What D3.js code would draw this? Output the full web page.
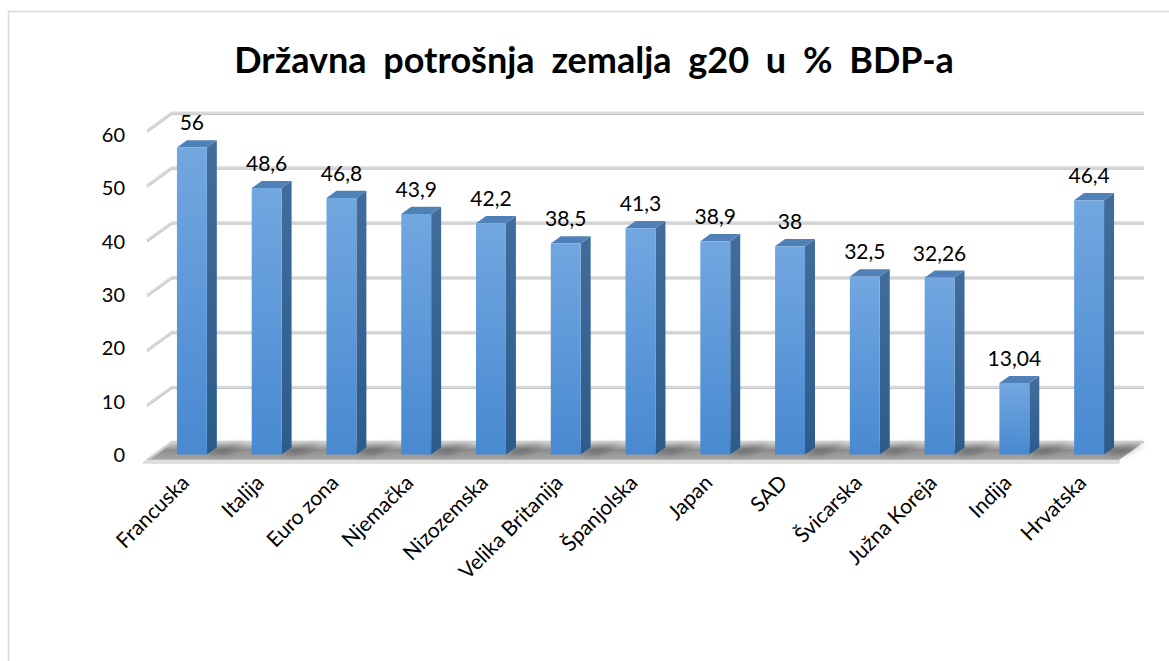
<!DOCTYPE html>
<html>
<head>
<meta charset="utf-8">
<script src="https://cdn.jsdelivr.net/npm/d3@7"></script>
<style>
  body { margin: 0; background: #fff; }
  svg text { font-family: Lato, "Open Sans", sans-serif; fill: #000; }
</style>
</head>
<body>
<svg id="barChart" width="1169" height="661"></svg>
<script>
// data
var categories = ["Francuska", "Italija", "Euro zona", "Njemačka", "Nizozemska", "Velika Britanija",
    "Španjolska", "Japan", "SAD", "Švicarska", "Južna Koreja", "Indija", "Hrvatska"];
var values = [56, 48.6, 46.8, 43.9, 42.2, 38.5, 41.3, 38.9, 38, 32.5, 32.26, 13.04, 46.4];
var yTicks = [0, 10, 20, 30, 40, 50, 60];
var title = "Državna potrošnja zemalja g20 u % BDP-a";

var svg = d3.select("svg#barChart");

// fake 3d: depth vector of the plot box
var depth = { x: 25, y: -18 },
    zFront = 0.3, zBack = 0.7;

var x = d3.scaleBand().domain(categories).range([147, 1119]).paddingInner(0.6).paddingOuter(0.3),
    y = d3.scaleLinear().domain([0, 60]).range([460, 131]),
    yLabel = y.copy().range([455, 135]); // tick labels sit between front and back wall

function p(px, py, z) { return [px + z * depth.x, py + z * depth.y]; }
function poly(pts) { return pts.map(function (d) { return d.join(","); }).join(" "); }

// chart border
svg.append("rect")
    .attr("x", 8.5).attr("y", 11.5)
    .attr("width", 1200).attr("height", 700)
    .attr("fill", "#fff")
    .attr("stroke", "#d9d9d9")
    .attr("stroke-width", 1.5);

var defs = svg.append("defs");

var front = defs.append("linearGradient").attr("id", "frontGrad")
    .attr("x1", 0).attr("y1", 0).attr("x2", 0).attr("y2", 1);
front.append("stop").attr("offset", "0%").attr("stop-color", "#72a7e0");
front.append("stop").attr("offset", "100%").attr("stop-color", "#4889d1");

var side = defs.append("linearGradient").attr("id", "sideGrad")
    .attr("x1", 0).attr("y1", 0).attr("x2", 0).attr("y2", 1);
side.append("stop").attr("offset", "0%").attr("stop-color", "#416d9c");
side.append("stop").attr("offset", "100%").attr("stop-color", "#2c5b8c");

var floorGrad = defs.append("linearGradient").attr("id", "floorGrad")
    .attr("x1", 0).attr("y1", 0).attr("x2", 0).attr("y2", 1);
floorGrad.append("stop").attr("offset", "0%").attr("stop-color", "#d6d6d6");
floorGrad.append("stop").attr("offset", "45%").attr("stop-color", "#8e8e8e");
floorGrad.append("stop").attr("offset", "100%").attr("stop-color", "#a9a9a9");

defs.append("filter").attr("id", "blur")
    .attr("x", "-50%").attr("y", "-50%").attr("width", "200%").attr("height", "200%")
    .append("feGaussianBlur").attr("stdDeviation", 3);

var x0 = x.range()[0], x1 = x.range()[1];

// back wall gridlines + diagonal ticks on the left wall
var grid = svg.append("g");
yTicks.forEach(function (t) {
    if (t === 0) return;
    var a = p(x0, y(t), 0), b = p(x0, y(t), 1), c = p(x1, y(t), 1);
    grid.append("polyline")
        .attr("points", poly([a, b, c]))
        .attr("fill", "none")
        .attr("stroke", "#d9d9d9")
        .attr("stroke-width", 3);
    grid.append("polyline")
        .attr("points", poly([[a[0], a[1] + 1.5], [b[0], b[1] + 1.5], [c[0], c[1] + 1.5]]))
        .attr("fill", "none")
        .attr("stroke", "#bdbdbd")
        .attr("stroke-width", 0.8);
});

// floor
var floor = svg.append("g");
floor.append("polygon")
    .attr("points", poly([p(x0, y(0), 0), p(x1, y(0), 0), p(x1, y(0), 1), p(x0, y(0), 1)]))
    .attr("fill", "url(#floorGrad)");
floor.append("polyline")
    .attr("points", poly([p(x0, y(0), 0), p(x0, y(0), 1), p(x1, y(0), 1)]))
    .attr("fill", "none").attr("stroke", "#d0d0d0").attr("stroke-width", 2.5);
// front lip
floor.append("polygon")
    .attr("points", poly([p(x0, y(0), 0), p(x1, y(0), 0), [x1, y(0) + 3], [x0 - 4, y(0) + 3]]))
    .attr("fill", "#e6e6e6").attr("stroke", "#c9c9c9").attr("stroke-width", 1);

// bar shadows on the floor
svg.append("g").selectAll("polygon")
    .data(values)
    .enter()
    .append("polygon")
    .attr("points", function (d, i) {
        var bx = x(categories[i]), bw = x.bandwidth();
        return poly([p(bx + bw, y(0), zFront), p(bx + bw + 18, y(0), zFront),
            p(bx + bw + 26, y(0), zBack + 0.2), p(bx + bw, y(0), zBack)]);
    })
    .attr("fill", "#555")
    .attr("opacity", 0.6)
    .attr("filter", "url(#blur)");

// bars
var bars = svg.append("g").selectAll("g.bar")
    .data(values)
    .enter()
    .append("g")
    .attr("class", "bar");

bars.append("polygon")
    .attr("points", function (d, i) {
        var bx = x(categories[i]) + x.bandwidth();
        return poly([p(bx, y(d), zFront), p(bx, y(d), zBack), p(bx, y(0), zBack), p(bx, y(0), zFront)]);
    })
    .attr("fill", "url(#sideGrad)");

bars.append("polygon")
    .attr("points", function (d, i) {
        var bx = x(categories[i]), bw = x.bandwidth();
        return poly([p(bx, y(d), zFront), p(bx + bw, y(d), zFront), p(bx + bw, y(d), zBack), p(bx, y(d), zBack)]);
    })
    .attr("fill", "#4f81b8");

bars.append("polygon")
    .attr("points", function (d, i) {
        var bx = x(categories[i]), bw = x.bandwidth();
        return poly([p(bx, y(d), zFront), p(bx + bw, y(d), zFront), p(bx + bw, y(0), zFront), p(bx, y(0), zFront)]);
    })
    .attr("fill", "url(#frontGrad)");

// value labels
bars.append("text")
    .attr("x", function (d, i) { return p(x(categories[i]) + x.bandwidth() / 2, 0, zFront)[0]; })
    .attr("y", function (d) { return p(0, y(d), zBack)[1] - 10; })
    .attr("text-anchor", "middle")
    .style("font-size", "21px")
    .text(function (d) { return String(d).replace(".", ","); });

// y axis labels
var yAxis = svg.append("g")
    .attr("transform", "translate(132,0)")
    .call(d3.axisLeft(yLabel).tickValues(yTicks).tickSize(0).tickPadding(7));
yAxis.select("path.domain").remove();
yAxis.selectAll("text").style("font-size", "20px").style("font-family", "Lato, sans-serif").attr("fill", "#000");

// category labels
svg.append("g").selectAll("text.cat")
    .data(categories)
    .enter()
    .append("text")
    .attr("class", "cat")
    .attr("text-anchor", "end")
    .attr("transform", function (d) {
        return "translate(" + (x(d) + x.bandwidth() / 2 + 6) + ",484) rotate(-45)";
    })
    .style("font-size", "21px")
    .text(function (d) { return d; });

// title
svg.append("text")
    .attr("x", 594)
    .attr("y", 73)
    .attr("text-anchor", "middle")
    .style("font-size", "36px")
    .style("font-weight", "bold")
    .style("word-spacing", "8px")
    .text(title);
</script>
</body>
</html>
